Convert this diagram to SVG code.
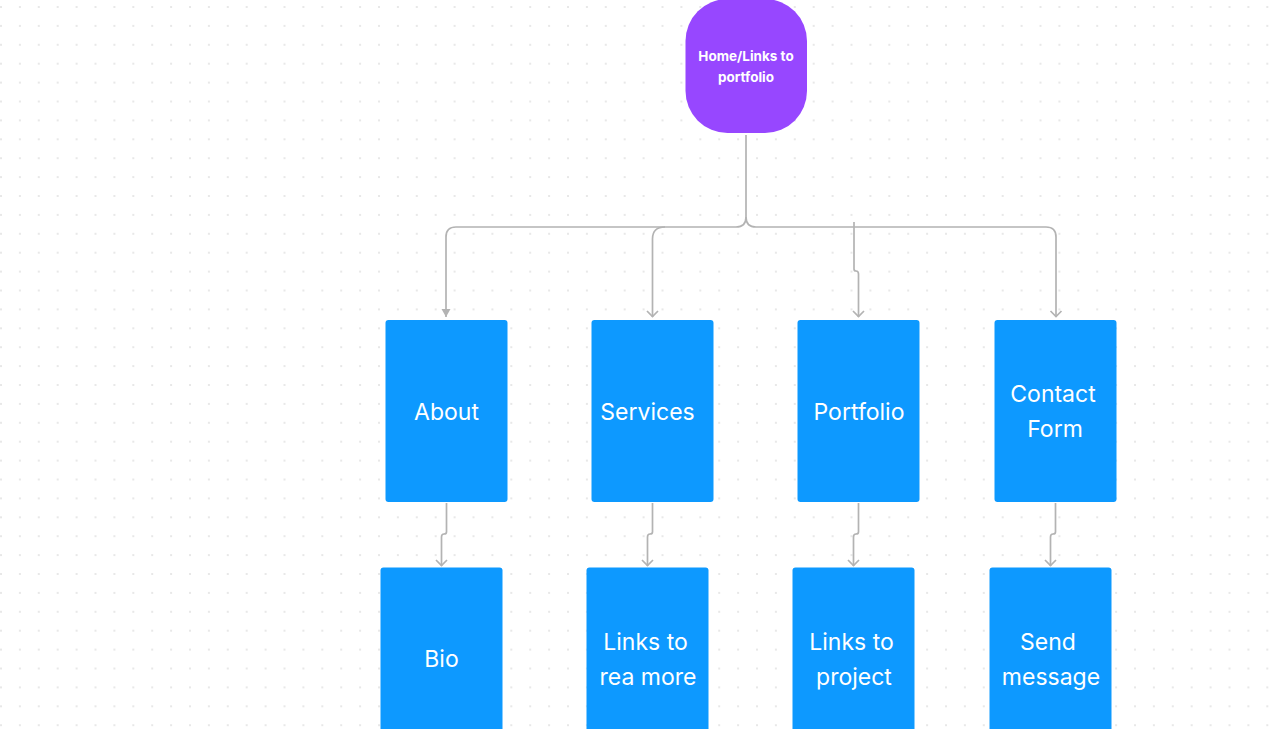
<svg xmlns="http://www.w3.org/2000/svg" width="1270" height="729" viewBox="0 0 1270 729">
<defs>
<pattern id="dots" x="0" y="6" width="18.9" height="18.9" patternUnits="userSpaceOnUse">
<rect x="0.3" y="0.3" width="1.4" height="1.4" fill="#d0d0d0"/>
</pattern>
<marker id="open" viewBox="0 0 14 10" refX="7" refY="9" markerWidth="14" markerHeight="10" markerUnits="userSpaceOnUse">
<path d="M1.5,3 L7,8.5 L12.5,3" fill="none" stroke="#b3b3b3" stroke-width="1.7"/>
</marker>
<marker id="filled" viewBox="0 0 12 10" refX="6" refY="9" markerWidth="12" markerHeight="10" markerUnits="userSpaceOnUse">
<path d="M1.5,1 L10.5,1 L6,9 Z" fill="#b3b3b3"/>
</marker>
<style>
.conn{fill:none;stroke:#b3b3b3;stroke-width:1.7}
.box{fill:#0d99ff}
.lbl{font-family:Inter,"Liberation Sans",sans-serif;font-size:23px;fill:#ffffff;text-anchor:middle}
.hl{font-family:Inter,"Liberation Sans",sans-serif;font-size:13.5px;font-weight:700;fill:#ffffff;text-anchor:middle}
</style>
</defs>
<rect width="1270" height="729" fill="#ffffff"/>
<rect width="1270" height="729" fill="url(#dots)"/>
<g id="connectors">
<path class="conn" d="M746,135 V217 Q746,227 736,227 H456 Q446,227 446,237 V317" marker-end="url(#filled)"/>
<path class="conn" d="M746,217 Q746,227 756,227 H1046 Q1056,227 1056,237 V317" marker-end="url(#open)"/>
<path class="conn" d="M665,227 Q652.5,227 652.5,239 V317" marker-end="url(#open)"/>
<path class="conn" d="M854,222 V269 Q854,271 856,271 Q858.5,271 858.5,274 V317" marker-end="url(#open)"/>
<path class="conn" d="M446.5,503 V532 Q446.5,534 444,534 Q441.5,534 441.5,537 V566" marker-end="url(#open)"/>
<path class="conn" d="M652.5,503 V532 Q652.5,534 650,534 Q647.5,534 647.5,537 V566" marker-end="url(#open)"/>
<path class="conn" d="M858.5,503 V532 Q858.5,534 856,534 Q853.5,534 853.5,537 V566" marker-end="url(#open)"/>
<path class="conn" d="M1055.5,503 V532 Q1055.5,534 1053,534 Q1050.5,534 1050.5,537 V566" marker-end="url(#open)"/>
</g>
<g id="home">
<rect x="685.5" y="-1" width="121.5" height="134" rx="42" ry="42" fill="#9747ff"/>
<text class="hl" x="746" y="60.5">Home/Links to</text>
<text class="hl" x="746" y="81.5">portfolio</text>
</g>
<g id="about">
<rect class="box" x="385.5" y="320" width="122" height="182" rx="3"/>
<text class="lbl" x="446.5" y="420">About</text>
</g>
<g id="services">
<rect class="box" x="591.5" y="320" width="122" height="182" rx="3"/>
<text class="lbl" x="647.5" y="420">Services</text>
</g>
<g id="portfolio">
<rect class="box" x="797.5" y="320" width="122" height="182" rx="3"/>
<text class="lbl" x="859" y="420">Portfolio</text>
</g>
<g id="contact">
<rect class="box" x="994.5" y="320" width="122" height="182" rx="3"/>
<text class="lbl" x="1053" y="402">Contact</text>
<text class="lbl" x="1055" y="437">Form</text>
</g>
<g id="bio">
<rect class="box" x="380.5" y="567.5" width="122" height="170" rx="3"/>
<text class="lbl" x="441.5" y="667">Bio</text>
</g>
<g id="links-rea-more">
<rect class="box" x="586.5" y="567.5" width="122" height="170" rx="3"/>
<text class="lbl" x="645.5" y="650">Links to</text>
<text class="lbl" x="648" y="685">rea more</text>
</g>
<g id="links-project">
<rect class="box" x="792.5" y="567.5" width="122" height="170" rx="3"/>
<text class="lbl" x="851.5" y="650">Links to</text>
<text class="lbl" x="854" y="685">project</text>
</g>
<g id="send-message">
<rect class="box" x="989.5" y="567.5" width="122" height="170" rx="3"/>
<text class="lbl" x="1048" y="650">Send</text>
<text class="lbl" x="1051" y="685">message</text>
</g>
</svg>
